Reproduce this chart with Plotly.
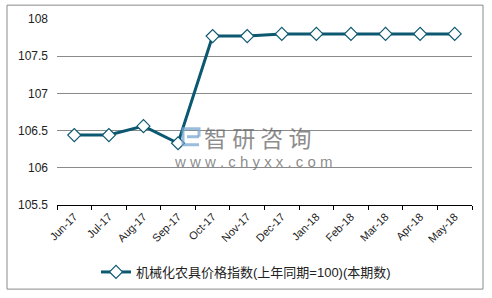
import plotly.graph_objects as go

months = ["Jun-17", "Jul-17", "Aug-17", "Sep-17", "Oct-17", "Nov-17", "Dec-17",
          "Jan-18", "Feb-18", "Mar-18", "Apr-18", "May-18"]
values = [106.44, 106.44, 106.56, 106.33, 107.77, 107.77, 107.80,
          107.80, 107.80, 107.80, 107.80, 107.80]
series_name = "机械化农具价格指数(上年同期=100)(本期数)"
y_ticks = [105.5, 106, 106.5, 107, 107.5, 108]
y_tick_text = ["105.5", "106", "106.5", "107", "107.5", "108"]

W, H = 492, 298
L, R, T, B = 57, 20, 17, 93
pw, ph = W - L - R, H - T - B

def px_x(x):
    return (x - L) / pw

def px_y(y):
    return (H - B - y) / ph

def path(points):
    return "M " + " L ".join(f"{px_x(a):.4f},{px_y(b):.4f}" for a, b in points)

font = "Liberation Sans, Arial, Noto Sans CJK SC, sans-serif"
wm = "rgba(110,110,110,0.8)"

fig = go.Figure()
fig.add_trace(go.Scatter(
    x=months, y=values, name=series_name, mode="lines+markers",
    line=dict(color="#0b5870", width=3),
    marker=dict(symbol="diamond", size=10, color="white",
                line=dict(color="#0b5870", width=1.2)),
))

logo = [
    dict(type="path", xref="paper", yref="paper",
         path=path([(199, 136), (199, 128), (183, 128), (183, 144), (199, 144)]),
         line=dict(color="rgba(120,165,210,0.75)", width=3)),
    dict(type="path", xref="paper", yref="paper",
         path=path([(187, 136), (199, 136)]),
         line=dict(color="rgba(120,165,210,0.75)", width=3)),
]

fig.update_layout(
    width=W, height=H,
    margin=dict(l=L, r=R, t=T, b=B),
    paper_bgcolor="white", plot_bgcolor="white",
    font=dict(family=font, size=12, color="#222"),
    showlegend=True,
    legend=dict(orientation="h", x=0.5, xanchor="center", xref="container",
                y=1 - 272 / H, yanchor="middle", yref="container",
                font=dict(size=13, color="#222"), itemwidth=30),
    xaxis=dict(type="category", tickson="boundaries", ticks="outside",
               ticklen=4, tickcolor="#000", showline=True, linecolor="#000",
               linewidth=1, showgrid=False, tickangle=-45,
               tickfont=dict(size=11), range=[-0.5, 11.5]),
    yaxis=dict(range=[105.5, 108], tickvals=y_ticks, ticktext=y_tick_text,
               showgrid=True, gridcolor="#8a8a8a", gridwidth=1,
               zeroline=False, showline=False, ticks="",
               tickfont=dict(size=12), ticklabelstandoff=8),
    shapes=[dict(type="rect", xref="paper", yref="paper",
                 x0=px_x(7), x1=px_x(483), y0=px_y(290), y1=px_y(3),
                 line=dict(color="#8a8a8a", width=1), fillcolor="rgba(0,0,0,0)",
                 layer="below")] + logo,
    annotations=[
        dict(text="智 研 咨 询", xref="paper", yref="paper", x=px_x(202), y=px_y(136),
             xanchor="left", yanchor="middle", showarrow=False,
             font=dict(size=23, color=wm, family="Noto Sans CJK SC")),
        dict(text="w w w . c h y x x . c o m", xref="paper", yref="paper",
             x=px_x(172), y=px_y(161), xanchor="left", yanchor="middle",
             showarrow=False, font=dict(size=15, color=wm, family=font)),
    ],
)

fig.write_html("out.html")
